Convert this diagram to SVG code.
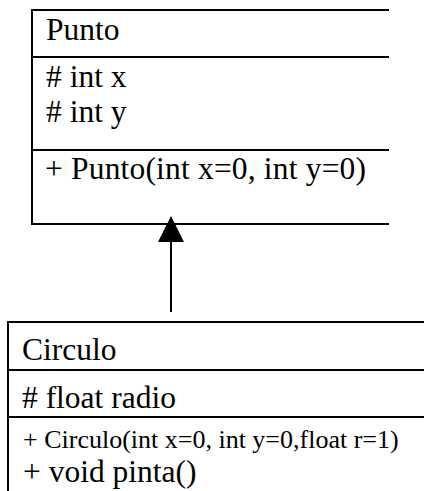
<svg xmlns="http://www.w3.org/2000/svg" width="424" height="491" viewBox="0 0 424 491">
<defs>
<style>
.t{font-family:"Liberation Serif","Times New Roman",serif;font-size:31.5px;fill:#000}
.s{font-size:26px}
.ln{stroke:#000;stroke-width:2;fill:none}
</style>
</defs>
<rect width="424" height="491" fill="#fff"/>
<g id="punto">
<path class="ln" d="M389,10 H32 V224 H389 M32,57 H389 M32,150 H389"/>
<text class="t" x="46" y="40">Punto</text>
<text class="t" x="46" y="87"># int x</text>
<text class="t" x="46" y="122"># int y</text>
<text class="t" x="45" y="179" textLength="321" lengthAdjust="spacing">+ Punto(int x=0, int y=0)</text>
</g>
<g id="circulo">
<path class="ln" d="M424,322 H8 V491 M8,370 H424 M8,417 H424"/>
<text class="t" x="22" y="360">Circulo</text>
<text class="t" x="22" y="408"># float radio</text>
<text class="t s" x="23" y="448">+ Circulo(int x=0, int y=0,float r=1)</text>
<text class="t" x="23" y="482">+ void pinta()</text>
</g>
<g id="connectors">
<line class="ln" x1="171" y1="312" x2="171" y2="242"/>
<path d="M158,242 L171,216 L184,242 Z" fill="#000"/>
</g>
</svg>
